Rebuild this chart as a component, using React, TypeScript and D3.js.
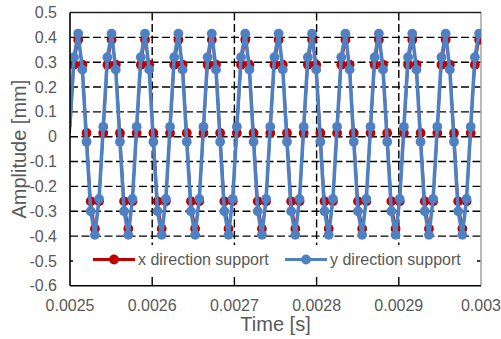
import React, { useEffect, useRef } from 'react';
import * as d3 from 'd3';

// sample times in microseconds
const timeUs = [
  2499.8, 2504.88, 2509.96, 2515.04, 2520.12, 2525.2, 2530.28, 2535.36,
  2540.44, 2545.52, 2550.6, 2555.68, 2560.76, 2565.84, 2570.92, 2576.0,
  2581.08, 2586.16, 2591.24, 2596.32, 2601.4, 2606.48, 2611.56, 2616.64,
  2621.72, 2626.8, 2631.88, 2636.96, 2642.04, 2647.12, 2652.2, 2657.28,
  2662.36, 2667.44, 2672.52, 2677.6, 2682.68, 2687.76, 2692.84, 2697.92,
  2703.0, 2708.08, 2713.16, 2718.24, 2723.32, 2728.4, 2733.48, 2738.56,
  2743.64, 2748.72, 2753.8, 2758.88, 2763.96, 2769.04, 2774.12, 2779.2,
  2784.28, 2789.36, 2794.44, 2799.52, 2804.6, 2809.68, 2814.76, 2819.84,
  2824.92, 2830.0, 2835.08, 2840.16, 2845.24, 2850.32, 2855.4, 2860.48,
  2865.56, 2870.64, 2875.72, 2880.8, 2885.88, 2890.96, 2896.04, 2901.12,
  2906.2, 2911.28, 2916.36, 2921.44, 2926.52, 2931.6, 2936.68, 2941.76,
  2946.84, 2951.92, 2957.0, 2962.08, 2967.16, 2972.24, 2977.32, 2982.4,
  2987.48, 2992.56, 2997.64,
];

const xSupport = [
  0.015, 0.29, 0.39, 0.29, 0.015, -0.26, -0.37, -0.26,
  0.015, 0.29, 0.39, 0.29, 0.015, -0.26, -0.37, -0.26,
  0.015, 0.29, 0.39, 0.29, 0.015, -0.26, -0.37, -0.26,
  0.015, 0.29, 0.39, 0.29, 0.015, -0.26, -0.37, -0.26,
  0.015, 0.29, 0.39, 0.29, 0.015, -0.26, -0.37, -0.26,
  0.015, 0.29, 0.39, 0.29, 0.015, -0.26, -0.37, -0.26,
  0.015, 0.29, 0.39, 0.29, 0.015, -0.26, -0.37, -0.26,
  0.015, 0.29, 0.39, 0.29, 0.015, -0.26, -0.37, -0.26,
  0.015, 0.29, 0.39, 0.29, 0.015, -0.26, -0.37, -0.26,
  0.015, 0.29, 0.39, 0.29, 0.015, -0.26, -0.37, -0.26,
  0.015, 0.29, 0.39, 0.29, 0.015, -0.26, -0.37, -0.26,
  0.015, 0.29, 0.39, 0.29, 0.015, -0.26, -0.37, -0.26,
  0.015, 0.29, 0.39,
];

const ySupport = [
  0.04, 0.32, 0.415, 0.27, -0.02, -0.3, -0.395, -0.25,
  0.04, 0.32, 0.415, 0.27, -0.02, -0.3, -0.395, -0.25,
  0.04, 0.32, 0.415, 0.27, -0.02, -0.3, -0.395, -0.25,
  0.04, 0.32, 0.415, 0.27, -0.02, -0.3, -0.395, -0.25,
  0.04, 0.32, 0.415, 0.27, -0.02, -0.3, -0.395, -0.25,
  0.04, 0.32, 0.415, 0.27, -0.02, -0.3, -0.395, -0.25,
  0.04, 0.32, 0.415, 0.27, -0.02, -0.3, -0.395, -0.25,
  0.04, 0.32, 0.415, 0.27, -0.02, -0.3, -0.395, -0.25,
  0.04, 0.32, 0.415, 0.27, -0.02, -0.3, -0.395, -0.25,
  0.04, 0.32, 0.415, 0.27, -0.02, -0.3, -0.395, -0.25,
  0.04, 0.32, 0.415, 0.27, -0.02, -0.3, -0.395, -0.25,
  0.04, 0.32, 0.415, 0.27, -0.02, -0.3, -0.395, -0.25,
  0.04, 0.32, 0.415,
];

const xTicks = [2500, 2600, 2700, 2800, 2900, 3000];
const xTickLabels = ['0.0025', '0.0026', '0.0027', '0.0028', '0.0029', '0.003'];
const yTicks = [0.5, 0.4, 0.3, 0.2, 0.1, 0, -0.1, -0.2, -0.3, -0.4, -0.5, -0.6];
const yTickLabels = ['0.5', '0.4', '0.3', '0.2', '0.1', '0', '-0.1', '-0.2', '-0.3', '-0.4', '-0.5', '-0.6'];

const seriesNames = ['x direction support', 'y direction support'];
const RED = '#C00000';
const BLUE = '#4F81C2';

const App = () => {
  const svgRef = useRef(null);

  useEffect(() => {
    const width = 501;
    const height = 339;
    const m = { left: 70, right: 481, top: 12.5, bottom: 285.8 };
    const font = '"Liberation Sans", Arial, sans-serif';
    const grey = '#595959';

    const svg = d3.select(svgRef.current)
      .attr('width', width)
      .attr('height', height);
    svg.selectAll('*').remove();

    const x = d3.scaleLinear().domain([2500, 3000]).range([m.left, m.right]);
    const y = d3.scaleLinear().domain([-0.6, 0.5]).range([m.bottom, m.top]);

    svg.append('rect').attr('width', width).attr('height', height).attr('fill', '#fff');

    svg.append('defs').append('clipPath').attr('id', 'plotClip')
      .append('rect')
      .attr('x', m.left).attr('y', m.top - 6)
      .attr('width', m.right - m.left).attr('height', m.bottom - m.top + 12);

    // gridlines
    const grid = svg.append('g')
      .attr('stroke', '#000')
      .attr('stroke-width', 1.4)
      .attr('stroke-dasharray', '8,3.5');
    grid.selectAll('.h')
      .data(yTicks.filter(v => v > -0.6 && v < 0.5))
      .join('line')
      .attr('x1', m.left).attr('x2', m.right)
      .attr('y1', d => y(d)).attr('y2', d => y(d));
    grid.selectAll('.v')
      .data(xTicks.filter(v => v > 2500 && v < 3000))
      .join('line')
      .attr('class', 'v')
      .attr('y1', m.top).attr('y2', m.bottom)
      .attr('x1', d => x(d)).attr('x2', d => x(d));

    // frame
    svg.append('line').attr('x1', m.right).attr('x2', m.right).attr('y1', m.top).attr('y2', m.bottom)
      .attr('stroke', '#8a8a8a').attr('stroke-width', 1.2);
    svg.append('line').attr('x1', m.left).attr('x2', m.right).attr('y1', m.top).attr('y2', m.top)
      .attr('stroke', '#222').attr('stroke-width', 1.5);

    const pts = (vals) => timeUs.map((t, i) => [t, vals[i]]);
    const line = d3.line().x(d => x(d[0])).y(d => y(d[1]));

    const series = [
      { vals: xSupport, color: RED, lw: 2.2 },
      { vals: ySupport, color: BLUE, lw: 3.6 },
    ];

    const plot = svg.append('g').attr('clip-path', 'url(#plotClip)');
    series.forEach(s => {
      const data = pts(s.vals);
      const g = plot.append('g');
      g.append('path')
        .attr('d', line(data))
        .attr('fill', 'none')
        .attr('stroke', s.color)
        .attr('stroke-width', s.lw)
        .attr('stroke-linejoin', 'round');
      g.selectAll('circle')
        .data(data.filter(d => d[0] >= 2500 && d[0] <= 3000))
        .join('circle')
        .attr('cx', d => x(d[0]))
        .attr('cy', d => y(d[1]))
        .attr('r', 4.9)
        .attr('fill', s.color);
    });

    // axes lines
    svg.append('line').attr('x1', m.left).attr('x2', m.left).attr('y1', m.top).attr('y2', m.bottom)
      .attr('stroke', '#000').attr('stroke-width', 1.6);
    svg.append('line').attr('x1', m.left).attr('x2', m.right).attr('y1', m.bottom).attr('y2', m.bottom)
      .attr('stroke', '#000').attr('stroke-width', 1.6);

    // legend
    const leg = svg.append('g');
    leg.append('rect').attr('x', 73).attr('y', 245).attr('width', 404).attr('height', 29).attr('fill', '#fff');
    const legItems = [
      { x0: 93, color: RED, name: seriesNames[0] },
      { x0: 285, color: BLUE, name: seriesNames[1] },
    ];
    legItems.forEach(it => {
      const ly = 259.5;
      leg.append('line').attr('x1', it.x0).attr('x2', it.x0 + 42).attr('y1', ly).attr('y2', ly)
        .attr('stroke', it.color).attr('stroke-width', 3);
      leg.append('circle').attr('cx', it.x0 + 21).attr('cy', ly).attr('r', 4.9).attr('fill', it.color);
      leg.append('text').attr('x', it.x0 + 45).attr('y', ly).attr('dy', '0.35em')
        .attr('font-family', font).attr('font-size', 16).attr('fill', grey)
        .text(it.name);
    });

    // tick labels
    svg.append('g').selectAll('text')
      .data(yTicks)
      .join('text')
      .attr('x', 57)
      .attr('y', d => y(d))
      .attr('dy', '0.35em')
      .attr('text-anchor', 'end')
      .attr('font-family', font).attr('font-size', 16).attr('fill', grey)
      .text((d, i) => yTickLabels[i]);

    svg.append('g').selectAll('text')
      .data(xTicks)
      .join('text')
      .attr('x', d => x(d))
      .attr('y', 311)
      .attr('text-anchor', 'middle')
      .attr('font-family', font).attr('font-size', 16).attr('fill', grey)
      .text((d, i) => xTickLabels[i]);

    // axis titles
    svg.append('text')
      .attr('x', (m.left + m.right) / 2).attr('y', 331)
      .attr('text-anchor', 'middle')
      .attr('font-family', font).attr('font-size', 20).attr('fill', grey)
      .text('Time [s]');
    svg.append('text')
      .attr('transform', `translate(19,${(m.top + m.bottom) / 2}) rotate(-90)`)
      .attr('dy', '0.35em')
      .attr('text-anchor', 'middle')
      .attr('font-family', font).attr('font-size', 20).attr('fill', grey)
      .text('Amplitude [mm]');
  }, []);

  return <svg ref={svgRef} style={{ position: 'absolute', left: 0, top: 0 }}></svg>;
};

export default App;
